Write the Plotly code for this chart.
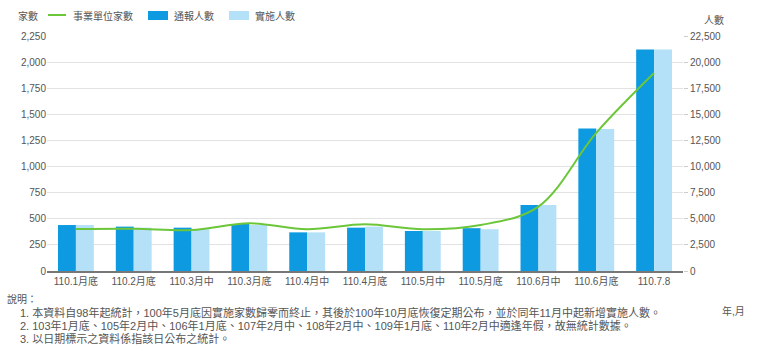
import plotly.graph_objects as go

categories = ["110.1月底", "110.2月底", "110.3月中", "110.3月底", "110.4月中", "110.4月底",
              "110.5月中", "110.5月底", "110.6月中", "110.6月底", "110.7.8"]
reported = [4400, 4250, 4150, 4500, 3700, 4150, 3830, 4100, 6320, 13650, 21200]
implemented = [4400, 4150, 4000, 4400, 3700, 4250, 3830, 4000, 6320, 13600, 21200]
units = [402, 405, 392, 457, 400, 447, 400, 440, 616, 1322, 1895]

notes = [
    "1. 本資料自98年起統計，100年5月底因實施家數歸零而終止，其後於100年10月底恢復定期公布，並於同年11月中起新增實施人數。",
    "2. 103年1月底、105年2月中、106年1月底、107年2月中、108年2月中、109年1月底、110年2月中適逢年假，故無統計數據。",
    "3. 以日期標示之資料係指該日公布之統計。",
]

GREEN = "#6cc63a"
DARK = "#0d9ae0"
LIGHT = "#b5e1f8"
TXT = "#555555"
FONT = "Liberation Sans, Noto Sans CJK TC, sans-serif"

fig = go.Figure()
fig.add_trace(go.Bar(x=categories, y=reported, name="通報人數", marker_color=DARK,
                     marker_line_width=0, yaxis="y"))
fig.add_trace(go.Bar(x=categories, y=implemented, name="實施人數", marker_color=LIGHT,
                     marker_line_width=0, yaxis="y"))
fig.add_trace(go.Scatter(x=categories, y=units, name="事業單位家數", mode="lines",
                         line=dict(color=GREEN, width=2, shape="spline", smoothing=1.0),
                         yaxis="y2"))

L, R, T, B = 47, 683, 36, 271
W, H = R - L, B - T


def px(x):
    return (x - L) / W


def py(y):
    return (B - y) / H


shapes = [
    dict(type="line", xref="paper", yref="paper", x0=px(48), x1=px(66), y0=py(15), y1=py(15),
         line=dict(color=GREEN, width=2)),
    dict(type="rect", xref="paper", yref="paper", x0=px(148), x1=px(168), y0=py(20), y1=py(11),
         fillcolor=DARK, line=dict(width=0)),
    dict(type="rect", xref="paper", yref="paper", x0=px(229), x1=px(249), y0=py(20), y1=py(11),
         fillcolor=LIGHT, line=dict(width=0)),
]

anns = [
    dict(text="家數", x=px(40), y=py(16), xanchor="right"),
    dict(text="事業單位家數", x=px(71), y=py(16), xanchor="left"),
    dict(text="通報人數", x=px(172), y=py(16), xanchor="left"),
    dict(text="實施人數", x=px(253), y=py(16), xanchor="left"),
    dict(text="人數", x=px(726), y=py(20), xanchor="right"),
    dict(text="年,月", x=px(720), y=py(311), xanchor="left"),
    dict(text="說明：", x=px(5), y=py(299), xanchor="left"),
]
for i, line in enumerate(notes):
    anns.append(dict(text=line, x=px(18), y=py(312 + 13 * i), xanchor="left",
                     font=dict(family=FONT, size=11, color=TXT)))

annotations = []
for a in anns:
    d = dict(xref="paper", yref="paper", showarrow=False, yanchor="middle",
             font=dict(family=FONT, size=10, color=TXT))
    d.update(a)
    annotations.append(d)

fig.update_layout(
    width=760, height=351,
    margin=dict(l=L, r=760 - R, t=T, b=351 - B),
    paper_bgcolor="white", plot_bgcolor="white",
    barmode="group", bargap=0.38, bargroupgap=0,
    showlegend=False,
    font=dict(family=FONT, size=10, color=TXT),
    xaxis=dict(showline=True, linecolor="#777777", linewidth=1.5, ticks="",
               tickfont=dict(family=FONT, size=10, color=TXT), showgrid=False),
    yaxis=dict(side="right", range=[0, 22500], dtick=2500, tickformat=",",
               showgrid=True, gridcolor="#e2e2e2", gridwidth=1, zeroline=False,
               ticks="outside", ticklen=4, tickcolor="#cccccc",
               tickfont=dict(family=FONT, size=10, color=TXT)),
    yaxis2=dict(side="left", overlaying="y", range=[0, 2250], dtick=250, tickformat=",",
                showgrid=False, zeroline=False,
                tickfont=dict(family=FONT, size=10, color=TXT)),
    shapes=shapes, annotations=annotations,
)

fig.write_html("out.html")
